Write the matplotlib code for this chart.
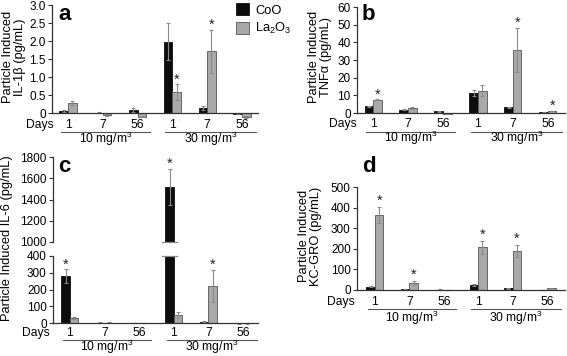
import matplotlib
matplotlib.use("Agg")
import matplotlib.pyplot as plt
import matplotlib.transforms as mtransforms
from matplotlib.patches import Patch
import numpy as np

plt.rcParams['font.family'] = ['Liberation Sans', 'DejaVu Sans']
plt.rcParams['mathtext.default'] = 'regular'

# ---------------- data ----------------
days = ['1', '7', '56', '1', '7', '56']
doses = ['10 mg/m$^3$', '30 mg/m$^3$']
series = ['CoO', 'La$_2$O$_3$']

il1b_coo = [0.05, 0.01, 0.08, 1.98, 0.14, -0.03]
il1b_coo_err = [0.02, 0.01, 0.05, 0.52, 0.05, 0.01]
il1b_la = [0.27, -0.05, -0.10, 0.58, 1.71, -0.12]
il1b_la_err = [0.06, 0.02, 0.02, 0.22, 0.60, 0.03]
il1b_star_coo = [0, 0, 0, 0, 0, 0]
il1b_star_la = [0, 0, 0, 1, 1, 0]

tnf_coo = [3.9, 2.0, 0.9, 11.3, 3.3, 0.4]
tnf_coo_err = [0.3, 0.3, 0.2, 1.7, 0.4, 0.1]
tnf_la = [7.4, 2.8, -0.3, 12.6, 35.6, 1.1]
tnf_la_err = [0.3, 0.5, 0.1, 3.0, 12.5, 0.2]
tnf_star_coo = [0, 0, 0, 0, 0, 0]
tnf_star_la = [1, 0, 0, 0, 1, 1]

il6_coo = [280, 3, 1, 1520, 8, -2]
il6_coo_err = [40, 1, 1, 170, 2, 1]
il6_la = [30, 3, 1, 48, 221, -2]
il6_la_err = [3, 1, 1, 18, 95, 1]
il6_star_coo = [1, 0, 0, 1, 0, 0]
il6_star_la = [0, 0, 0, 0, 1, 0]

kc_coo = [15, 3, 2, 24, 8, 1]
kc_coo_err = [3, 1, 1, 3, 2, 1]
kc_la = [363, 32, 1, 207, 189, 8]
kc_la_err = [40, 10, 1, 33, 28, 2]
kc_star_coo = [0, 0, 0, 0, 0, 0]
kc_star_la = [1, 1, 0, 1, 1, 0]

# ---------------- style ----------------
W, H = 567, 356
C_COO = '#0d0d0d'
C_LA = '#a9a9a9'
C_EDGE_LA = '#555555'
C_ERR = '#8a8a8a'
C_AX = '#333333'
FS_TICK = 8.5
FS_TXT = 8.7
BW = 0.245

fig = plt.figure(figsize=(W / 100, H / 100), dpi=100)


def add_ax(l, t, r, b):
    return fig.add_axes([l / W, 1 - b / H, (r - l) / W, (b - t) / H])


def fy(py):
    return 1 - py / H


def style_ax(ax, ybounds, bottom=True):
    for s in ['top', 'right']:
        ax.spines[s].set_visible(False)
    ax.spines['left'].set_bounds(*ybounds)
    ax.spines['left'].set_color(C_AX)
    ax.spines['left'].set_linewidth(0.9)
    if bottom:
        ax.spines['bottom'].set_position(('data', 0))
        ax.spines['bottom'].set_color(C_AX)
        ax.spines['bottom'].set_linewidth(0.9)
    else:
        ax.spines['bottom'].set_visible(False)
    ax.set_xticks([])
    ax.tick_params(axis='y', direction='out', length=3, width=0.8,
                   color=C_AX, labelsize=FS_TICK, pad=1.5)


def draw_bars(ax, coo, coo_err, la, la_err, star_coo, star_la, star_pad, ylim):
    x = np.arange(len(days))
    ekw = dict(ecolor=C_ERR, elinewidth=0.8, capsize=1.6, capthick=0.8)
    ax.bar(x - BW / 2, coo, BW, yerr=coo_err, color=C_COO, edgecolor=C_COO,
           linewidth=0.6, error_kw=ekw, zorder=2)
    ax.bar(x + BW / 2, la, BW, yerr=la_err, color=C_LA, edgecolor=C_EDGE_LA,
           linewidth=0.6, error_kw=ekw, zorder=2)
    for i in range(len(days)):
        for off, v, e, s in [(-BW / 2, coo[i], coo_err[i], star_coo[i]),
                             (BW / 2, la[i], la_err[i], star_la[i])]:
            ytop = max(v, 0) + e
            if s and ylim[0] <= ytop <= ylim[1]:
                ax.annotate('*', (x[i] + off, ytop),
                            xytext=(0, star_pad), textcoords='offset points',
                            ha='center', va='center', fontsize=10.5,
                            color='#222222', annotation_clip=False)
    ax.set_ylim(*ylim)


def x_labels(ax, y_days, y_line, y_dose, days_x):
    tr = mtransforms.blended_transform_factory(ax.transData, fig.transFigure)
    for i, d in enumerate(days):
        ax.text(i, fy(y_days), d, transform=tr, ha='center', va='center',
                fontsize=FS_TXT, clip_on=False)
    fig.text(days_x / W, fy(y_days), 'Days', ha='center', va='center',
             fontsize=FS_TXT)
    for (x0, x1), lab in zip([(-0.2, 2.35), (2.8, 5.4)], doses):
        ax.plot([x0, x1], [fy(y_line)] * 2, transform=tr, color='#555555',
                lw=0.8, clip_on=False)
        ax.text((x0 + x1) / 2, fy(y_dose), lab, transform=tr, ha='center',
                va='center', fontsize=FS_TXT, clip_on=False)


# ---------------- panel a ----------------
axa = add_ax(52, 5, 258, 120.2)
draw_bars(axa, il1b_coo, il1b_coo_err, il1b_la, il1b_la_err,
          il1b_star_coo, il1b_star_la, 3.5, (-0.2, 3.0))
axa.set_xlim(-0.46, 5.46)
axa.set_yticks([0, 0.5, 1.0, 1.5, 2.0, 2.5, 3.0])
axa.set_yticklabels(['0', '0.5', '1.0', '1.5', '2.0', '2.5', '3.0'])
style_ax(axa, (0, 3.0))
x_labels(axa, 125, 131.5, 138.5, 40)
fig.text(14 / W, fy(57), 'Particle Induced\nIL-1β (pg/mL)', rotation=90,
         ha='center', va='center', fontsize=9.3, linespacing=1.05)
fig.text(58 / W, fy(14), 'a', fontsize=16, fontweight='bold',
         ha='left', va='center')

# ---------------- panel b ----------------
axb = add_ax(357, 7, 565, 115.7)
draw_bars(axb, tnf_coo, tnf_coo_err, tnf_la, tnf_la_err,
          tnf_star_coo, tnf_star_la, 3.5, (-1.5, 60))
axb.set_xlim(-0.46, 5.49)
axb.set_yticks([0, 10, 20, 30, 40, 50, 60])
style_ax(axb, (0, 60))
x_labels(axb, 124, 131.5, 138, 343)
fig.text(320 / W, fy(57), 'Particle Induced\nTNFα (pg/mL)', rotation=90,
         ha='center', va='center', fontsize=9.3, linespacing=1.05)
fig.text(362 / W, fy(14), 'b', fontsize=16, fontweight='bold',
         ha='left', va='center')

# ---------------- panel c (broken axis) ----------------
axc_top = add_ax(53, 157, 258, 242)
axc_bot = add_ax(53, 256, 258, 324.7)
draw_bars(axc_top, il6_coo, il6_coo_err, il6_la, il6_la_err,
          il6_star_coo, il6_star_la, 3.5, (1000, 1800))
draw_bars(axc_bot, il6_coo, il6_coo_err, il6_la, il6_la_err,
          il6_star_coo, il6_star_la, 3.5, (-10, 400))
for ax in (axc_top, axc_bot):
    ax.set_xlim(-0.49, 5.43)
axc_top.set_yticks([1000, 1200, 1400, 1600, 1800])
style_ax(axc_top, (1000, 1800), bottom=False)
axc_bot.set_yticks([0, 100, 200, 300, 400])
style_ax(axc_bot, (0, 400))
# break marks across the broken bar
xb = 3 - BW / 2
axc_top.plot([xb - 0.22, xb + 0.2], [1000, 1000], color='#888888', lw=0.9,
             clip_on=False, zorder=3)
axc_bot.plot([xb - 0.22, xb + 0.2], [400, 400], color='#888888', lw=0.9,
             clip_on=False, zorder=3)
x_labels(axc_bot, 333, 339.5, 347, 36)
fig.text(7 / W, fy(238), 'Particle Induced IL-6 (pg/mL)', rotation=90,
         ha='center', va='center', fontsize=9.3)
fig.text(58 / W, fy(167), 'c', fontsize=16, fontweight='bold',
         ha='left', va='center')

# ---------------- panel d ----------------
axd = add_ax(357, 187, 565, 291)
draw_bars(axd, kc_coo, kc_coo_err, kc_la, kc_la_err,
          kc_star_coo, kc_star_la, 4.5, (-5, 500))
axd.set_xlim(-0.52, 5.52)
axd.set_yticks([0, 100, 200, 300, 400, 500])
style_ax(axd, (0, 500))
x_labels(axd, 302, 308.5, 317.5, 341)
fig.text(310 / W, fy(236), 'Particle Induced\nKC-GRO (pg/mL)', rotation=90,
         ha='center', va='center', fontsize=9.3, linespacing=1.05)
fig.text(362 / W, fy(167), 'd', fontsize=16, fontweight='bold',
         ha='left', va='center')

# ---------------- legend ----------------
handles = [Patch(facecolor=C_COO, edgecolor=C_COO, lw=0.6),
           Patch(facecolor=C_LA, edgecolor=C_EDGE_LA, lw=0.6)]
fig.legend(handles, series, loc='upper left',
           bbox_to_anchor=(236 / W, fy(3.5)), frameon=False, fontsize=9.3,
           handlelength=1.0, handleheight=1.0, handletextpad=0.5,
           labelspacing=0.35, borderpad=0, borderaxespad=0)

fig.savefig('out.png', dpi=100)
